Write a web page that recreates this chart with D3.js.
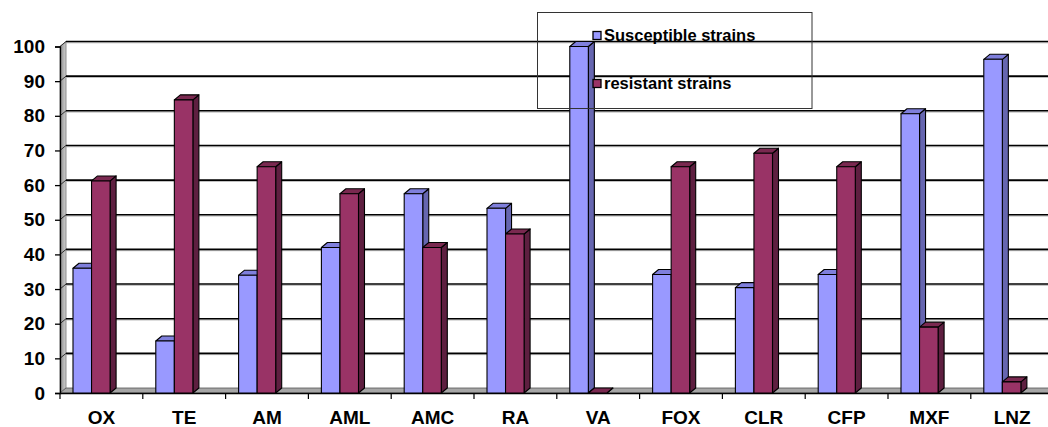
<!DOCTYPE html>
<html><head><meta charset="utf-8">
<script src="https://cdn.jsdelivr.net/npm/d3@7/dist/d3.min.js"></script>
<style>html,body{margin:0;padding:0;background:#fff;}svg{display:block;}</style>
</head><body>
<svg id="chart" width="1048" height="427"></svg>
<script>
const categories = ["OX","TE","AM","AML","AMC","RA","VA","FOX","CLR","CFP","MXF","LNZ"];
const seriesNames = ["Susceptible strains","resistant strains"];
const susceptible = [36, 15, 34, 42, 57.5, 53.3, 100, 34.2, 30.4, 34.2, 80.6, 96.3];
const resistant   = [61.2, 84.6, 65.3, 57.5, 42, 45.9, 0, 65.3, 69.2, 65.3, 19, 3.2];
const yTicks = [0,10,20,30,40,50,60,70,80,90,100];

const colors = {
  "Susceptible strains": {front:"#9999ff", side:"#6666b0", top:"#7f7fdc"},
  "resistant strains":   {front:"#993366", side:"#5e1f40", top:"#7a2950"}
};

const svg = d3.select("#chart");
const font = "'Liberation Sans', Arial, sans-serif";
const dx = 6, dy = -5;

const x = d3.scaleBand().domain(categories).range([60, 60 + 12*82.8]);
const inner = d3.scaleBand().domain(seriesNames)
  .range([x.bandwidth()*0.157, x.bandwidth()*0.605]);
const y = d3.scaleLinear().domain([0,100]).range([393, 46.5]);

// left wall
const grad = svg.append("defs").append("linearGradient").attr("id","wall")
  .attr("x1","0").attr("x2","1").attr("y1","0").attr("y2","0");
grad.append("stop").attr("offset","0").attr("stop-color","#8c8c8c");
grad.append("stop").attr("offset","1").attr("stop-color","#d0d0d0");
svg.append("polygon")
  .attr("points",[[60,y(0)],[60,y(100)],[60+dx,y(100)+dy],[60+dx,y(0)+dy]].join(" "))
  .attr("fill","url(#wall)").attr("stroke","#777").attr("stroke-width",0.8);

// floor
svg.append("polygon")
  .attr("points",[[60,y(0)],[1060,y(0)],[1060+dx,y(0)+dy],[60+dx,y(0)+dy]].join(" "))
  .attr("fill","#a6a6a6").attr("stroke","#555").attr("stroke-width",0.8);

// gridlines on back wall
const grid = svg.append("g");
yTicks.filter(t=>t>0).forEach(t=>{
  grid.append("line").attr("x1",60+dx).attr("x2",1048).attr("y1",y(t)+dy+1.3).attr("y2",y(t)+dy+1.3)
    .attr("stroke","#bbb").attr("stroke-width",1);
  grid.append("line").attr("x1",60+dx).attr("x2",1048).attr("y1",y(t)+dy).attr("y2",y(t)+dy)
    .attr("stroke","#000").attr("stroke-width",1.6);
  grid.append("line").attr("x1",60).attr("x2",60+dx).attr("y1",y(t)).attr("y2",y(t)+dy)
    .attr("stroke","#333").attr("stroke-width",1);
});

// axes
const yAxis = svg.append("g").attr("transform","translate(60,0)")
  .call(d3.axisLeft(y).tickValues(yTicks).tickSize(5).tickPadding(10).tickFormat(d3.format("d")));
yAxis.select(".domain").attr("stroke","#000").attr("stroke-width",1.3);
yAxis.selectAll(".tick line").attr("stroke","#000").attr("stroke-width",1.3);
yAxis.selectAll("text").attr("font-family",font).attr("font-weight","bold")
  .attr("font-size","19px").attr("fill","#000");

const xAxis = svg.append("g").attr("transform",`translate(0,${y(0)})`)
  .call(d3.axisBottom(x).tickSize(0).tickPadding(18));
xAxis.select(".domain").attr("stroke","#000").attr("stroke-width",1.3);
xAxis.selectAll("text").attr("font-family",font).attr("font-weight","bold")
  .attr("font-size","19px").attr("fill","#000");
// boundary ticks
xAxis.selectAll(".bt").data(categories).enter().append("line").attr("class","bt")
  .attr("x1",d=>x(d)).attr("x2",d=>x(d)).attr("y1",0).attr("y2",6)
  .attr("stroke","#000").attr("stroke-width",1.2);

// bars
const bars = svg.append("g");
categories.forEach((c,i)=>{
  const vals = [susceptible[i], resistant[i]];
  seriesNames.forEach((s,j)=>{
    const v = vals[j];
    const x0 = x(c) + inner(s), x1 = x0 + inner.bandwidth();
    const yt = y(v), yb = y(0);
    const col = colors[s];
    const g = bars.append("g").attr("stroke","#000").attr("stroke-width",1.1).attr("stroke-linejoin","round");
    g.append("polygon").attr("points",[[x1,yt],[x1+dx,yt+dy],[x1+dx,yb+dy],[x1,yb]].join(" "))
      .attr("fill",col.side);
    g.append("polygon").attr("points",[[x0,yt],[x0+dx,yt+dy],[x1+dx,yt+dy],[x1,yt]].join(" "))
      .attr("fill",col.top);
    if (v > 0) g.append("rect").attr("x",x0).attr("y",yt).attr("width",x1-x0).attr("height",yb-yt)
      .attr("fill",col.front);
  });
});

// legend
const lg = svg.append("g");
lg.append("rect").attr("x",537.5).attr("y",12.5).attr("width",274.5).attr("height",96)
  .attr("fill","none").attr("stroke","#333").attr("stroke-width",1);
seriesNames.forEach((s,j)=>{
  const cy = 35.5 + j*48;
  lg.append("rect").attr("x",593).attr("y",cy-4).attr("width",8).attr("height",8)
    .attr("fill",colors[s].front).attr("stroke","#000").attr("stroke-width",1.3);
  lg.append("text").attr("x",604).attr("y",cy+5.5).text(s)
    .attr("font-family",font).attr("font-weight","bold").attr("font-size","16.5px").attr("fill","#000");
});
</script>
</body></html>
